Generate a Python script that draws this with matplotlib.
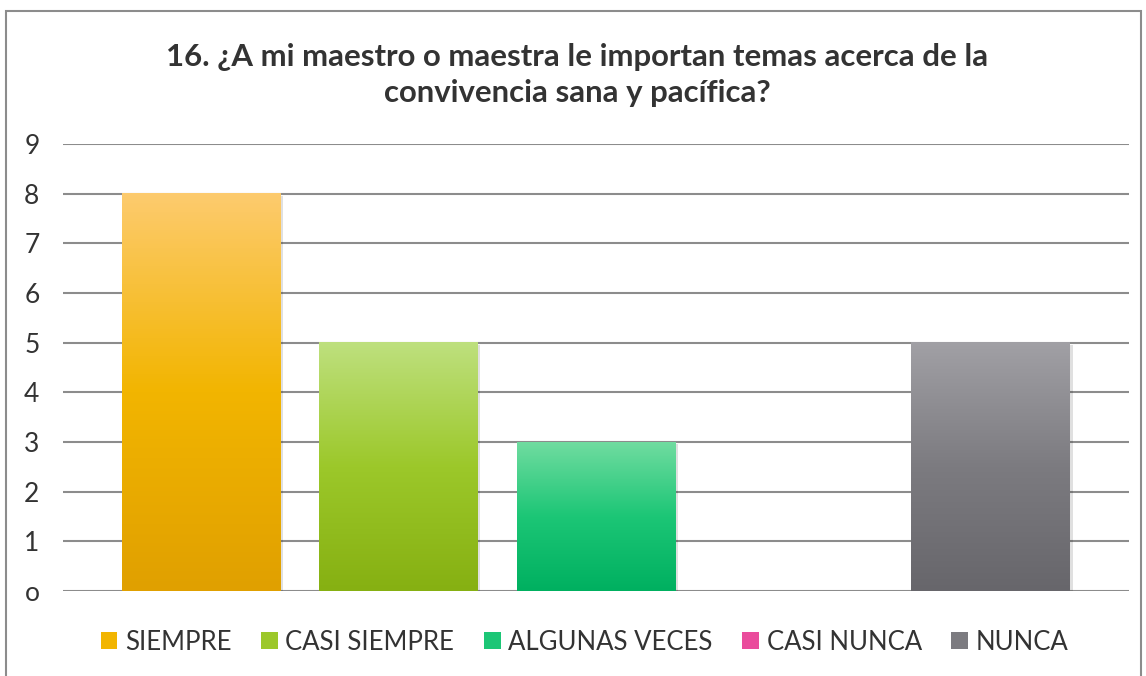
import matplotlib
matplotlib.use("Agg")
import matplotlib.pyplot as plt
import numpy as np
from matplotlib.colors import LinearSegmentedColormap
from matplotlib.patches import Patch, Rectangle

categories = ["SIEMPRE", "CASI SIEMPRE", "ALGUNAS VECES", "CASI NUNCA", "NUNCA"]
values = [8, 5, 3, 0, 5]
title = "16. ¿A mi maestro o maestra le importan temas acerca de la\nconvivencia sana y pacífica?"
yticks = list(range(0, 10))

gradients = [
    ["#E0A000", "#F2B500", "#FDCB6E"],
    ["#86B012", "#9CC82A", "#BEE07E"],
    ["#00B060", "#1CC676", "#70DCA0"],
    ["#D62A84", "#EA4C9C", "#F585BA"],
    ["#67666B", "#7C7B80", "#A1A0A5"],
]
mid_colors = [g[1] for g in gradients]

plt.rcParams['font.family'] = ['Lato', 'DejaVu Sans']

fig = plt.figure(figsize=(11.46, 6.76), dpi=100)
fig.patch.set_facecolor("white")
fig.add_artist(Rectangle((6/1146, -0.01), (1141-6)/1146, 1 - 11/676 + 0.01,
                         transform=fig.transFigure, fill=False,
                         edgecolor="#8c8c8c", linewidth=1.5))

ax = fig.add_axes([63/1146, 1-591/676, (1129-63)/1146, (591-144)/676])
x = np.arange(len(categories))
w = 0.805
for i, (v, g) in enumerate(zip(values, gradients)):
    cmap = LinearSegmentedColormap.from_list(f"g{i}", g)
    if v > 0:
        grad = np.linspace(0, 1, 256).reshape(-1, 1)
        ax.imshow(grad, extent=[x[i]-w/2, x[i]+w/2, 0, v], origin="lower",
                  aspect="auto", cmap=cmap, zorder=3)
        ax.add_patch(Rectangle((x[i]-w/2+0.012, -0.04), w, v, facecolor="#000000",
                               alpha=0.12, edgecolor="none", zorder=2.5))

ax.set_xlim(-0.699, len(categories)-1+0.699)
ax.set_ylim(0, 9)
ax.set_yticks(yticks)
ax.set_yticklabels([str(t) if t != 0 else "o" for t in yticks])
ax.set_xticks([])
ax.grid(axis="y", color="#8c8c8c", linewidth=1.5, zorder=0)
ax.set_axisbelow(True)
for s in ax.spines.values():
    s.set_visible(False)
ax.tick_params(axis="y", length=0, pad=17, labelsize=19, labelcolor="#333333")

fig.text(577/1146, 1-75/676, title, ha="center", va="center", fontsize=22.4,
         fontweight="bold", color="#333333", linespacing=1.35)

handles = [Patch(facecolor=c, edgecolor="none") for c in mid_colors]
fig.legend(handles, categories, loc="center", bbox_to_anchor=(0.510, 1-642/676),
           ncol=5, frameon=False, fontsize=18.5, handlelength=0.65, handleheight=0.65,
           handletextpad=0.3, columnspacing=1.15, labelcolor="#333333")

fig.savefig("out.png", dpi=100)
